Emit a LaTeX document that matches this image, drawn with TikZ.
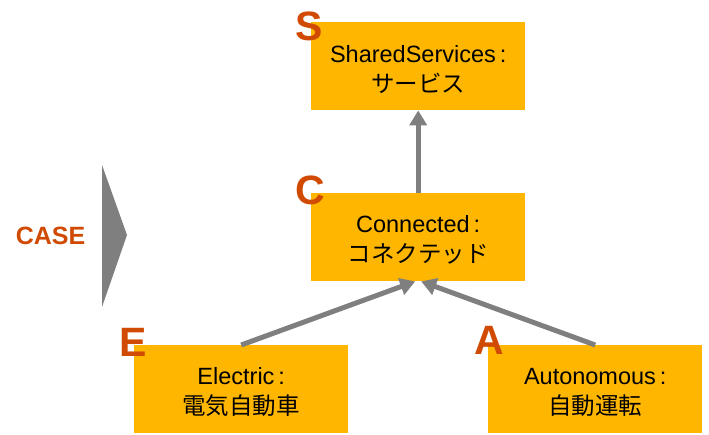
\documentclass[tikz,border=0pt]{standalone}
\usepackage{fontspec}
\setmainfont{Liberation Sans}
\newfontfamily\jp{Noto Sans CJK JP}
\usetikzlibrary{arrows.meta,calc}
\definecolor{boxyellow}{HTML}{FFB600}
\definecolor{tagorange}{HTML}{D04A02}
\definecolor{linkgray}{HTML}{7F7F7F}
\begin{document}
\begin{tikzpicture}[x=1pt,y=-1pt,
  box/.style={fill=boxyellow, draw=none, minimum width=214pt, minimum height=88pt, inner sep=0pt, anchor=north west},
  boxtext/.style={align=center, font=\fontsize{23.5}{30}\selectfont, inner sep=0pt, yshift=-3pt},
  tag/.style={text=tagorange, font=\bfseries\fontsize{41}{41}\selectfont, inner sep=0pt},
  link/.style={draw=linkgray, line width=5pt, -{Triangle[width=17pt,length=15pt]}}]
\useasboundingbox (0,0) rectangle (709,435);

% layer boxes
\node[box] (s) at (311,22) {};
\node[box] (c) at (311,193) {};
\node[box] (e) at (134,345) {};
\node[box] (a) at (488,345) {};

\node[boxtext] (st) at (s.center) {SharedServices\,:\\{\jp サービス}};
\node[boxtext] (ct) at (c.center) {Connected\,:\\{\jp コネクテッド}};
\node[boxtext] (et) at (e.center) {Electric\,:\\{\jp 電気自動車}};
\node[boxtext] (at) at (a.center) {Autonomous\,:\\{\jp 自動運転}};

% dependencies
\draw[link] (c.north) -- (s.south);
\draw[link] (e.north) -- ($(c.south)+(-3,0)$);
\draw[link] (a.north) -- ($(c.south)+(3,0)$);

% initials
\node[tag] (sl) at (309.5,26) {S};
\node[tag] (cl) at (310,190.5) {C};
\node[tag] (el) at (133.5,342) {E};
\node[tag] (al) at (489,340) {A};

% acronym and pointer
\node[text=tagorange, font=\bfseries\fontsize{25}{25}\selectfont, inner sep=0pt] (case) at (50.5,236) {CASE};
\fill[linkgray] (102,165) -- (127,235) -- (102,307) -- cycle;
\end{tikzpicture}
\end{document}
